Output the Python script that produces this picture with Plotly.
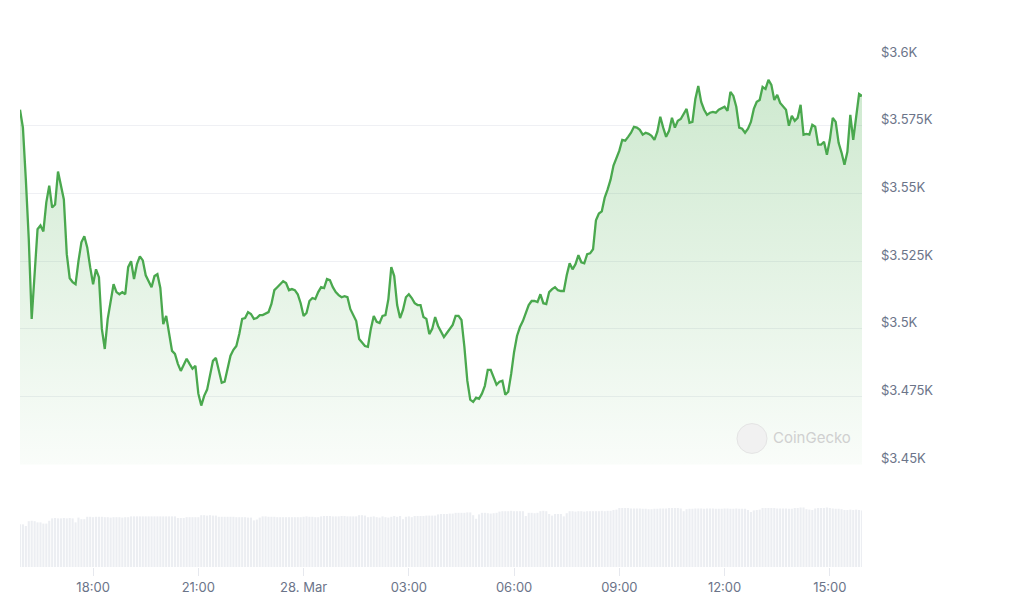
import pandas as pd
import plotly.graph_objects as go

# ---- data ----
start_time = "2024-03-27 15:55"
interval = "5min"

price = [
    3580.9, 3574.3, 3555.1, 3533.1, 3503.7, 3520.2, 3536.8, 3538.2, 3536.0, 3546.7,
    3552.9, 3544.8, 3545.9, 3558.1, 3553.3, 3547.8, 3527.6, 3518.7, 3517.3, 3516.5,
    3525.0, 3532.0, 3534.2, 3530.1, 3522.8, 3516.5, 3522.0, 3519.1, 3500.0, 3492.6,
    3503.7, 3511.0, 3516.5, 3513.6, 3512.8, 3513.6, 3512.8, 3522.8, 3525.0, 3518.4,
    3523.9, 3526.8, 3525.3, 3519.8, 3517.6, 3515.4, 3519.5, 3520.2, 3515.1, 3501.8,
    3504.8, 3498.5, 3491.9, 3490.8, 3487.1, 3484.5, 3486.7, 3489.0, 3487.1, 3485.3,
    3486.4, 3476.1, 3471.7, 3475.3, 3477.6, 3482.3, 3488.2, 3489.3, 3484.9, 3480.1,
    3480.5, 3485.3, 3490.1, 3492.3, 3493.7, 3498.1, 3503.7, 3504.0, 3506.2, 3505.5,
    3503.7, 3504.0, 3505.1, 3505.1, 3505.5, 3506.2, 3509.2, 3514.3, 3515.4, 3516.5,
    3517.6, 3516.9, 3514.3, 3514.7, 3514.3, 3512.8, 3509.5, 3504.8, 3505.9, 3510.3,
    3511.4, 3511.0, 3513.6, 3515.4, 3515.1, 3518.4, 3518.0, 3515.4, 3513.6, 3512.5,
    3511.7, 3512.1, 3511.7, 3507.3, 3504.8, 3502.9, 3496.3, 3494.8, 3493.7, 3493.4,
    3500.0, 3504.8, 3502.6, 3502.2, 3504.8, 3505.1, 3511.0, 3522.8, 3519.5, 3508.8,
    3504.0, 3507.0, 3511.7, 3512.8, 3511.4, 3509.5, 3508.8, 3508.8, 3504.4, 3503.7,
    3498.1, 3500.0, 3504.4, 3501.1, 3498.9, 3497.0, 3498.5, 3500.0, 3501.5, 3504.8,
    3504.8, 3503.3, 3493.4, 3480.9, 3473.9, 3473.1, 3474.6, 3474.2, 3476.1, 3479.0,
    3484.9, 3484.9, 3482.0, 3479.4, 3480.5, 3480.9, 3475.7, 3476.8, 3483.4, 3491.5,
    3497.4, 3500.7, 3502.9, 3506.2, 3508.8, 3510.3, 3510.3, 3509.9, 3512.8, 3509.5,
    3509.2, 3513.6, 3514.7, 3515.4, 3514.3, 3514.0, 3514.0, 3519.8, 3524.2, 3522.0,
    3523.9, 3527.2, 3524.6, 3524.2, 3527.6, 3527.9, 3529.4, 3540.1, 3542.6, 3543.4,
    3548.5, 3551.5, 3555.1, 3560.3, 3562.8, 3565.8, 3569.8, 3569.5, 3570.9, 3572.4,
    3574.6, 3574.3, 3573.5, 3571.7, 3572.4, 3572.0, 3571.3, 3569.8, 3572.8, 3578.3,
    3574.3, 3570.9, 3573.1, 3577.9, 3574.3, 3576.8, 3577.5, 3579.4, 3581.2, 3576.1,
    3576.4, 3584.9, 3589.7, 3583.8, 3580.9, 3579.0, 3579.8, 3580.1, 3579.8, 3580.9,
    3581.6, 3582.0, 3580.5, 3587.5, 3586.0, 3582.0, 3574.3, 3573.9, 3572.4, 3573.9,
    3576.4, 3581.2, 3583.8, 3584.5, 3589.3, 3588.6, 3591.9, 3590.1, 3584.5, 3586.4,
    3583.4, 3582.0, 3580.9, 3575.0, 3578.7, 3576.8, 3577.9, 3582.7, 3571.7, 3572.0,
    3571.7, 3575.3, 3574.6, 3568.0, 3568.0, 3569.1, 3564.3, 3569.8, 3577.9, 3576.4,
    3568.7, 3565.1, 3560.6, 3565.4, 3579.0, 3569.8, 3579.4, 3586.7, 3586.0,
]

# volume (billions USD, relative heights)
volume = [
    10.7, 10.7, 10.3, 11.5, 11.6, 11.5, 11.2, 11.2, 10.9, 10.9,
    11.6, 12.2, 12.3, 12.2, 12.2, 12.3, 12.2, 12.3, 12.2, 11.2,
    12.4, 12.0, 12.0, 12.6, 12.6, 12.5, 12.6, 12.6, 12.6, 12.5,
    12.5, 12.4, 12.5, 12.5, 12.5, 12.4, 12.5, 12.5, 12.7, 12.7,
    12.7, 12.7, 12.7, 12.7, 12.7, 12.7, 12.7, 12.7, 12.7, 12.7,
    12.7, 12.7, 12.7, 12.7, 12.3, 12.3, 12.3, 12.5, 12.5, 12.5,
    12.5, 12.5, 13.0, 13.0, 12.9, 13.0, 12.9, 12.9, 12.6, 12.6,
    12.6, 12.6, 12.6, 12.6, 12.5, 12.5, 12.5, 12.5, 12.4, 12.4,
    11.7, 11.9, 12.4, 12.7, 12.7, 12.6, 12.6, 12.6, 12.5, 12.5,
    12.5, 12.5, 12.5, 12.5, 12.5, 12.5, 12.5, 12.6, 12.7, 12.6,
    12.6, 12.5, 12.5, 12.7, 12.8, 12.8, 12.8, 12.7, 12.7, 12.7,
    12.8, 12.8, 12.7, 12.7, 12.7, 12.7, 13.0, 13.0, 12.9, 12.5,
    12.6, 12.7, 12.5, 12.4, 12.7, 12.5, 12.4, 12.6, 12.8, 12.6,
    12.8, 12.0, 12.6, 12.7, 12.5, 12.8, 12.8, 12.8, 12.8, 12.9,
    12.9, 12.9, 12.9, 13.2, 13.3, 13.3, 13.3, 13.4, 13.4, 13.6,
    13.6, 13.6, 13.6, 13.7, 13.7, 13.0, 12.1, 13.2, 13.6, 13.6,
    13.5, 13.4, 13.5, 13.6, 13.9, 14.0, 14.0, 14.0, 14.1, 14.0,
    14.0, 14.0, 14.0, 12.8, 13.6, 13.6, 13.5, 13.6, 14.0, 14.1,
    14.0, 13.3, 12.9, 13.3, 13.3, 13.3, 12.7, 13.5, 14.0, 14.0,
    13.9, 14.0, 14.0, 13.9, 14.0, 14.0, 14.0, 14.0, 14.0, 14.1,
    14.0, 14.1, 14.1, 14.3, 14.4, 14.8, 14.8, 14.8, 14.8, 14.7,
    14.7, 14.7, 14.7, 14.6, 14.6, 14.5, 14.5, 14.6, 14.6, 14.7,
    14.7, 14.7, 14.8, 14.8, 14.8, 14.8, 14.7, 14.0, 14.5, 14.6,
    14.6, 14.7, 14.7, 14.7, 14.6, 14.7, 14.7, 14.7, 14.6, 14.6,
    14.6, 14.7, 14.7, 14.6, 14.6, 14.7, 14.6, 14.6, 14.6, 14.3,
    13.8, 14.2, 14.3, 14.4, 14.8, 14.8, 14.8, 14.8, 14.8, 14.7,
    14.7, 14.7, 14.7, 14.6, 14.6, 14.8, 14.8, 14.9, 14.9, 14.5,
    14.4, 14.3, 14.7, 14.8, 14.8, 14.8, 14.9, 14.8, 14.7, 14.6,
    14.6, 14.5, 14.3, 14.3, 14.4, 14.3, 14.4, 14.3, 14.2,
]

tick_times = ["2024-03-27 18:00", "2024-03-27 21:00", "2024-03-28 00:00", "2024-03-28 03:00",
              "2024-03-28 06:00", "2024-03-28 09:00", "2024-03-28 12:00", "2024-03-28 15:00"]
tick_labels = ["18:00", "21:00", "28. Mar", "03:00", "06:00", "09:00", "12:00", "15:00"]

price_ticks = [3450, 3475, 3500, 3525, 3550, 3575, 3600]
price_tick_labels = ["$3.45K", "$3.475K", "$3.5K", "$3.525K", "$3.55K", "$3.575K", "$3.6K"]

# ---- figure ----
times = pd.date_range(start_time, periods=len(price), freq=interval)
vol_times = pd.date_range(start_time, periods=len(volume), freq=interval)

GREEN = "#4aa84e"
LABEL = "#6b7489"
FONT = "Inter, Roboto, 'Noto Sans', sans-serif"

fig = go.Figure()

fig.add_trace(go.Bar(
    x=vol_times, y=volume, xaxis="x", yaxis="y2",
    marker=dict(color="#eceef2", line=dict(width=0)),
    hoverinfo="skip", showlegend=False,
))

fig.add_trace(go.Scatter(
    x=times, y=price, xaxis="x", yaxis="y",
    mode="lines", line=dict(color=GREEN, width=2.3),
    fill="tozeroy",
    fillgradient=dict(
        type="vertical",
        colorscale=[[0, "rgba(76,175,80,0.03)"], [1, "rgba(76,175,80,0.28)"]],
        start=3450, stop=3595,
    ),
    showlegend=False,
))

# CoinGecko watermark
fig.add_shape(type="circle", xref="paper", yref="paper",
              x0=0.8515, x1=0.8872, y0=0.2231, y1=0.2818,
              fillcolor="#f1f1f1", line=dict(color="#e4e4e4", width=1), layer="above")
fig.add_annotation(xref="paper", yref="paper", x=0.8920, y=0.2540,
                   xanchor="left", yanchor="middle",
                   text="CoinGecko", showarrow=False,
                   font=dict(family=FONT, size=15, color="#d0d0d0"))

# the page body has an 8px margin, so the figure is 8px smaller than the window
fig.update_layout(
    width=1016, height=599,
    margin=dict(l=12, r=162, t=50, b=38),
    paper_bgcolor="white", plot_bgcolor="white",
    bargap=0.28,
    font=dict(family=FONT, size=13, color=LABEL),
    xaxis=dict(
        type="date", anchor="y2",
        range=[times[0], times[-1]],
        tickvals=tick_times, ticktext=tick_labels,
        showgrid=False, zeroline=False, showline=False,
        ticks="outside", ticklen=8, tickcolor="#e6e8ee", tickwidth=1,
        tickfont=dict(size=13, color=LABEL),
    ),
    yaxis=dict(
        domain=[0.2016, 1.0], range=[3450, 3600],
        side="right", anchor="x",
        tickvals=price_ticks, ticktext=price_tick_labels,
        showgrid=True, gridcolor="#eff0f4", gridwidth=1,
        zeroline=False, showline=False, ticks="",
        ticklabelstandoff=18, ticklabelshift=-6,
        tickfont=dict(size=13, color=LABEL),
    ),
    yaxis2=dict(
        domain=[0.0, 0.1566], range=[0, 20],
        anchor="x", showgrid=False, zeroline=False,
        showticklabels=False, showline=False,
    ),
)

fig.write_html("out.html")
